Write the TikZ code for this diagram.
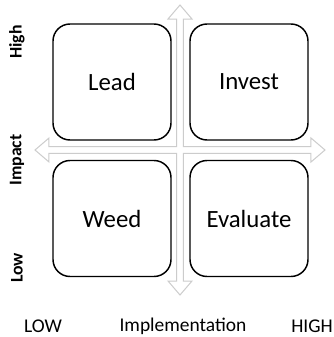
\documentclass[tikz,border=0pt]{standalone}
\usepackage{fontspec}
\setmainfont{Carlito}
\begin{document}
\begin{tikzpicture}[x=0.75pt,y=-0.75pt,
  quadrant/.style={draw=black, line width=1.1pt, rounded corners=12.75pt,
    minimum width=88.5pt, minimum height=87pt, inner sep=0pt,
    font=\fontsize{18.6}{20}\selectfont},
  axislabel/.style={font=\bfseries\fontsize{13.3}{15}\selectfont, rotate=90, inner sep=0pt},
  scalelabel/.style={font=\fontsize{14.6}{16}\selectfont, inner sep=0pt},
  crossarrow/.style={draw=black!20, fill=white, line width=0.75pt, line join=miter}]
\useasboundingbox (0,0) rectangle (334,337);

% four-way arrow behind the grid
\coordinate (c) at (180,150);
\draw[crossarrow] (180,5) -- (192,19) -- (183.3,19) -- (183.3,146.7)
  -- (311,146.7) -- (311,138) -- (325,150) -- (311,162) -- (311,153.3)
  -- (183.3,153.3) -- (183.3,281) -- (192,281) -- (180,295) -- (168,281)
  -- (176.7,281) -- (176.7,153.3) -- (49,153.3) -- (49,162) -- (35,150)
  -- (49,138) -- (49,146.7) -- (176.7,146.7) -- (176.7,19) -- (168,19) -- cycle;

% quadrants
\node[quadrant] (lead)   at (112,82)  {Lead};
\node[quadrant] (invest) at (249,82)  {Invest};
\node[quadrant] (weed)   at (112,218.5) {Weed};
\node[quadrant] (eval)   at (249,218.5) {Evaluate};

% vertical axis
\node[axislabel] (high)   at (17,42)  {High};
\node[axislabel] (impact) at (17,160) {Impact};
\node[axislabel] (low)    at (17,268) {Low};

% horizontal axis
\node[scalelabel] (lowx)  at (43,326)  {LOW};
\node[scalelabel] (impl)  at (183,326) {Implementation};
\node[scalelabel] (highx) at (312,326) {HIGH};
\end{tikzpicture}
\end{document}
